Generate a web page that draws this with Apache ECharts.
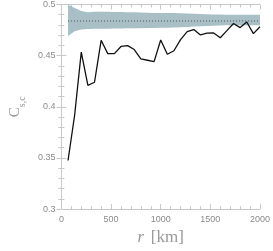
<!DOCTYPE html>
<html><head><meta charset="utf-8">
<script src="https://cdn.jsdelivr.net/npm/echarts@6/dist/echarts.min.js"></script>
<style>html,body{margin:0;padding:0;background:#fff}#c{width:273px;height:251px}</style>
</head><body><div id="c"></div>
<script>
var rKm = [66.7,133.3,200,266.7,333.3,400,466.7,533.3,600,666.7,733.3,800,866.7,933.3,1000,1066.7,1133.3,1200,1266.7,1333.3,1400,1466.7,1533.3,1600,1666.7,1733.3,1800,1866.7,1933.3,2000];
var cObserved = [0.3475,0.392,0.4535,0.421,0.424,0.465,0.452,0.452,0.459,0.4598,0.456,0.4468,0.4455,0.4442,0.4653,0.4514,0.4548,0.4656,0.4735,0.4755,0.4703,0.472,0.4722,0.4675,0.4745,0.4814,0.4774,0.4829,0.4715,0.4783];
var bandUpper = [0.4997,0.4965,0.4937,0.4925,0.4928,0.4929,0.4928,0.4927,0.4926,0.4925,0.4924,0.4922,0.4920,0.4918,0.4918,0.4917,0.4916,0.4915,0.4913,0.4910,0.4906,0.4904,0.4903,0.4902,0.4901,0.4900,0.4900,0.4901,0.4900,0.4900];
var bandLower = [0.4692,0.4738,0.4755,0.4760,0.4762,0.4763,0.4764,0.4765,0.4766,0.4767,0.4768,0.4769,0.4770,0.4771,0.4772,0.4773,0.4775,0.4777,0.4780,0.4784,0.4788,0.4791,0.4793,0.4795,0.4796,0.4797,0.4798,0.4797,0.4798,0.4798];
var meanLevel = 0.4839;
var xTicks = ['0','500','1000','1500','2000'];
var yTicks = ['0.3','0.35','0.4','0.45','0.5'];

var linePts = rKm.map(function(r,i){return [r, cObserved[i]];});
var meanPts = [[rKm[0], meanLevel],[rKm[rKm.length-1], meanLevel]];

var axCol = '#c8c8c8', txtCol = '#8a8a8a';
function axisBase(show){
  return {
    axisLine:{show:true, lineStyle:{color:axCol, width:1}},
    axisTick:{show:true, inside:true, length:5, lineStyle:{color:axCol}},
    minorTick:{show:true, splitNumber:5, length:3, lineStyle:{color:axCol}},
    splitLine:{show:false},
    axisLabel:{show:show, color:txtCol, fontSize:9, fontFamily:'Liberation Sans'}
  };
}
var xa = axisBase(true);
Object.assign(xa, {type:'value', min:0, max:2000, interval:500, position:'bottom',
  name:'{i|r}  {n|[km]}', nameLocation:'middle', nameGap:19,
  nameTextStyle:{color:'#999', rich:{i:{fontFamily:'Liberation Serif', fontStyle:'italic', fontSize:17, color:'#999'}, n:{fontFamily:'Liberation Serif', fontSize:17, color:'#999'}}},
  axisLabel:{show:true, color:txtCol, fontSize:9, fontFamily:'Liberation Sans', margin:6,
    formatter:function(v){var i=Math.round(v/500);return xTicks[i]!==undefined?xTicks[i]:'';}}});
var xa2 = axisBase(false);
Object.assign(xa2, {type:'value', min:0, max:2000, interval:500, position:'top'});
var ya = axisBase(true);
Object.assign(ya, {type:'value', min:0.3, max:0.5, interval:0.05, position:'left',
  name:'{c|C}{s|s,c}', nameLocation:'middle', nameGap:37, nameRotate:90,
  nameTextStyle:{color:'#999', rich:{c:{fontFamily:'Liberation Serif', fontSize:15, color:'#999'}, s:{fontFamily:'Liberation Serif', fontSize:10, color:'#999', verticalAlign:'bottom', padding:[0,0,-4,0]}}},
  axisLabel:{show:true, color:txtCol, fontSize:9, fontFamily:'Liberation Sans', margin:6,
    formatter:function(v){var i=Math.round((v-0.3)/0.05);return yTicks[i]!==undefined?yTicks[i]:'';}}});
var ya2 = axisBase(false);
Object.assign(ya2, {type:'value', min:0.3, max:0.5, interval:0.05, position:'right'});

var chart = echarts.init(document.getElementById('c'), null, {renderer:'canvas'});
chart.setOption({
  animation:false,
  backgroundColor:'#fff',
  grid:{left:45, right:11, top:3, bottom:32},
  xAxis:[xa, xa2],
  yAxis:[ya, ya2],
  series:[
    {type:'custom', data:[[0]], silent:true, z:1, clip:true,
     renderItem:function(params, api){
       var pts = [];
       for (var i=0;i<rKm.length;i++) pts.push(api.coord([rKm[i], bandUpper[i]]));
       for (var j=rKm.length-1;j>=0;j--) pts.push(api.coord([rKm[j], bandLower[j]]));
       return {type:'polygon', shape:{points:pts}, style:{fill:'#a8bfc6'}};
     }},
    {type:'line', data:meanPts, symbol:'none', lineStyle:{color:'#555', width:1, type:[1,2]}, z:3},
    {type:'line', data:linePts, symbol:'none', lineStyle:{color:'#111', width:1.3}, z:4}
  ]
});
</script></body></html>
